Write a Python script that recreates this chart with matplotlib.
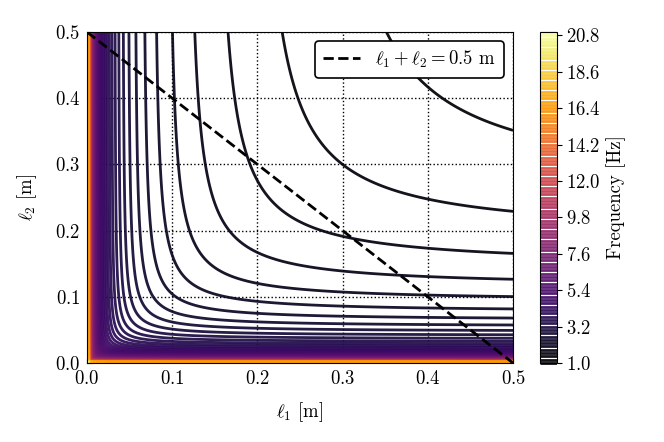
import numpy as np
import matplotlib
matplotlib.use('Agg')
import matplotlib.pyplot as plt

plt.rcParams['font.family'] = 'serif'
plt.rcParams['font.serif'] = ['cmr10']
plt.rcParams['mathtext.fontset'] = 'cm'
plt.rcParams['axes.formatter.use_mathtext'] = True
plt.rcParams['font.size'] = 13.5

# double pendulum parameters
g = 9.81
m1 = 1.0
m2 = 0.5
l_min = 0.00135
l_max = 0.5
n_grid = 400

# contour levels (Hz)
levels = np.round(np.arange(1.0, 21.0001, 0.2), 1)

# line l1 + l2 = 0.5 m
total_length = 0.5

l1 = np.linspace(l_min, l_max, n_grid)
l2 = np.linspace(l_min, l_max, n_grid)
L1, L2 = np.meshgrid(l1, l2)

# higher normal mode of the double pendulum
M = m1 + m2
a = M * (L1 + L2)
w2 = g / (2 * m1 * L1 * L2) * (a + np.sqrt(a**2 - 4 * m1 * M * L1 * L2))
freq = np.sqrt(w2) / (2 * np.pi)

fig = plt.figure(figsize=(6.64, 4.42), dpi=100)
ax = fig.add_axes([87/664, 1 - 363/442, 426/664, 331/442])
cax = fig.add_axes([540/664, 1 - 363/442, 16.5/664, 331/442])

cs = ax.contour(L1, L2, freq, levels=levels, cmap='inferno', linewidths=2, alpha=0.93)
ax.plot([0, total_length], [total_length, 0], 'k--', lw=2,
        label=r'$\ell_1+\ell_2=0.5$ m')

ax.set_xlim(0, 0.5)
ax.set_ylim(0, 0.5)
ax.set_xticks([0.0, 0.1, 0.2, 0.3, 0.4, 0.5])
ax.set_yticks([0.0, 0.1, 0.2, 0.3, 0.4, 0.5])
ax.tick_params(direction='in', pad=5)
ax.grid(True, linestyle=':', color='k', linewidth=1)
ax.set_xlabel(r'$\ell_1$ [m]', labelpad=9)
ax.set_ylabel(r'$\ell_2$ [m]', labelpad=11)
leg = ax.legend(loc='upper right', framealpha=1, edgecolor='k', fancybox=True)
leg.get_frame().set_linewidth(1.2)

cb = fig.colorbar(cs, cax=cax)
cb.set_label('Frequency [Hz]')

fig.savefig('out.png', dpi=100)
